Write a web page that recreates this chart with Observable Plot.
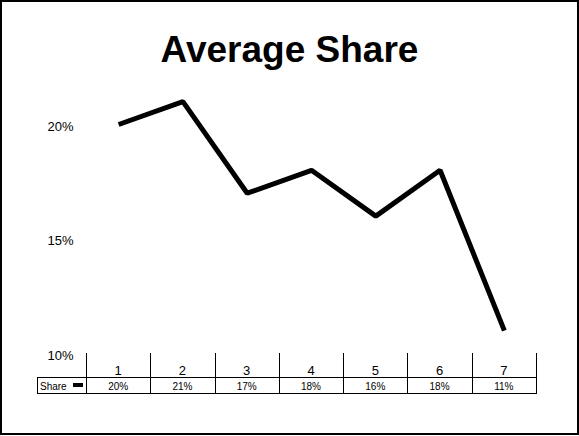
<!DOCTYPE html>
<html>
<head>
<meta charset="utf-8">
<script src="https://cdn.jsdelivr.net/npm/d3@7"></script>
<script src="https://cdn.jsdelivr.net/npm/@observablehq/plot@0.6"></script>
<style>
  html, body { margin: 0; padding: 0; background: #fff; }
  #wrap { position: relative; width: 579px; height: 436px; overflow: hidden; font-family: "Liberation Sans", Arial, sans-serif; }
  #frame { position: absolute; left: 0; top: 0; width: 579px; height: 435px; box-sizing: border-box; border: 2px solid #000; pointer-events: none; z-index: 3; }
  #title { position: absolute; left: 0; top: 31px; width: 579px; margin: 0; text-align: center; font-size: 37px; line-height: 37px; font-weight: bold; color: #000; z-index: 2; }
  #chart { position: absolute; left: 0; top: 0; }
</style>
</head>
<body>
<div id="wrap">
  <div id="chart"></div>
  <h1 id="title">Average Share</h1>
  <div id="frame"></div>
</div>
<script>
const categories = [1, 2, 3, 4, 5, 6, 7];
const shareValues = [20, 21, 17, 18, 16, 18, 11];
const seriesName = "Share";
const yTicks = [10, 15, 20];

(function () {
const data = categories.map((c, i) => ({cat: c, share: shareValues[i]}));
const fmt = d => d + "%";

const plot = Plot.plot({
  width: 579,
  height: 436,
  marginLeft: 86,
  marginRight: 43,
  marginTop: 124,
  marginBottom: 83,
  style: {fontFamily: '"Liberation Sans", Arial, sans-serif', background: "transparent", overflow: "visible"},
  x: {type: "linear", domain: [0.5, categories.length + 0.5], axis: null},
  y: {type: "linear", domain: [10, 20], axis: null},
  marks: [
    Plot.axisY({ticks: yTicks, tickFormat: fmt, tickSize: 0, tickPadding: 13, fontSize: 13, dy: 2, anchor: "left", label: null}),
    Plot.line(data, {x: "cat", y: "share", stroke: "black", strokeWidth: 5, strokeLinejoin: "miter", strokeLinecap: "butt", clip: false})
  ]
});
document.getElementById("chart").appendChild(plot);

// data table under the plot, aligned with the x scale
const xs = plot.scale("x");
const X = v => xs.apply(v);
const svg = d3.select(plot);
const g = svg.append("g").attr("shape-rendering", "crispEdges").attr("stroke", "#000").attr("stroke-width", 1);
const rowTop = 353, rowMid = 377, rowBot = 393, cellLeft = 37;
const bounds = d3.range(categories.length + 1).map(k => X(k + 0.5));
const rightEdge = Math.round(bounds[bounds.length - 1]) + 1;
bounds.forEach(bx => g.append("line").attr("x1", Math.round(bx) + 0.5).attr("x2", Math.round(bx) + 0.5).attr("y1", rowTop).attr("y2", rowBot));
g.append("line").attr("x1", cellLeft + 0.5).attr("x2", cellLeft + 0.5).attr("y1", rowMid).attr("y2", rowBot);
g.append("line").attr("x1", cellLeft).attr("x2", rightEdge).attr("y1", rowMid + 0.5).attr("y2", rowMid + 0.5);
g.append("line").attr("x1", cellLeft).attr("x2", rightEdge).attr("y1", rowBot + 0.5).attr("y2", rowBot + 0.5);

const t = svg.append("g").attr("font-family", '"Liberation Sans", Arial, sans-serif').attr("fill", "#000");
categories.forEach((c, i) => {
  t.append("text").attr("x", X(c)).attr("y", 375).attr("text-anchor", "middle").attr("font-size", 13).text(String(c));
  t.append("text").attr("x", X(c)).attr("y", 390).attr("text-anchor", "middle").attr("font-size", 10).text(fmt(shareValues[i]));
});
t.append("text").attr("x", 40).attr("y", 390).attr("text-anchor", "start").attr("font-size", 10).text(seriesName);
svg.append("rect").attr("x", 73).attr("y", 383).attr("width", 10).attr("height", 4).attr("fill", "#000");
})();
</script>
</body>
</html>
